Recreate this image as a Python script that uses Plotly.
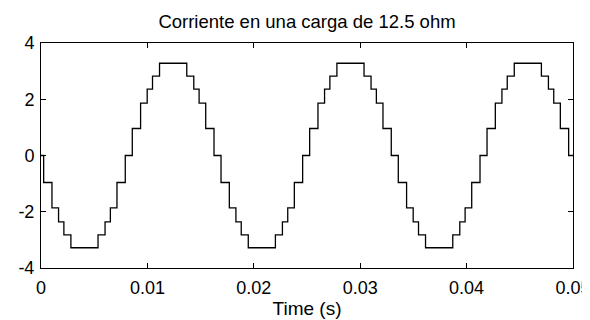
import plotly.graph_objects as go

# Step transition times (s) and the level reached at each time (A)
time_s = [
    0.0,
    0.00025, 0.00103, 0.00165, 0.00215, 0.00281,
    0.00536, 0.00602, 0.00652, 0.00714, 0.00792,
    0.00858, 0.00936, 0.00998, 0.01048, 0.01114,
    0.01370, 0.01436, 0.01486, 0.01548, 0.01626,
    0.01692, 0.01770, 0.01832, 0.01882, 0.01948,
    0.02203, 0.02269, 0.02319, 0.02381, 0.02459,
    0.02525, 0.02603, 0.02665, 0.02715, 0.02781,
    0.03036, 0.03102, 0.03152, 0.03214, 0.03292,
    0.03358, 0.03436, 0.03498, 0.03548, 0.03614,
    0.03870, 0.03936, 0.03986, 0.04048, 0.04126,
    0.04192, 0.04270, 0.04332, 0.04382, 0.04448,
    0.04703, 0.04769, 0.04819, 0.04881, 0.04959,
    0.05,
]

current_a = [
    0.0,
    -0.96, -1.86, -2.36, -2.82, -3.28,
    -2.82, -2.36, -1.86, -0.96, 0.0,
    0.96, 1.86, 2.36, 2.82, 3.28,
    2.82, 2.36, 1.86, 0.96, 0.0,
    -0.96, -1.86, -2.36, -2.82, -3.28,
    -2.82, -2.36, -1.86, -0.96, 0.0,
    0.96, 1.86, 2.36, 2.82, 3.28,
    2.82, 2.36, 1.86, 0.96, 0.0,
    -0.96, -1.86, -2.36, -2.82, -3.28,
    -2.82, -2.36, -1.86, -0.96, 0.0,
    0.96, 1.86, 2.36, 2.82, 3.28,
    2.82, 2.36, 1.86, 0.96, 0.0,
    0.0,
]

x_ticks = [0, 0.01, 0.02, 0.03, 0.04, 0.05]
x_tick_labels = ["0", "0.01", "0.02", "0.03", "0.04", "0.05"]
y_ticks = [-4, -2, 0, 2, 4]
y_tick_labels = ["-4", "-2", "0", "2", "4"]

title_text = "Corriente en una carga de 12.5 ohm"
x_title = "Time (s)"

FONT = "Liberation Sans, Arial, sans-serif"

fig = go.Figure()
fig.add_trace(go.Scatter(
    x=time_s, y=current_a, mode="lines",
    line=dict(color="black", width=1.3, shape="hv"),
    showlegend=False, hoverinfo="skip",
))

axis_common = dict(
    showline=True, linecolor="black", linewidth=1,
    mirror="ticks", ticks="inside", ticklen=5, tickcolor="black", tickwidth=1,
    showgrid=False, zeroline=False, automargin=False,
    tickfont=dict(family=FONT, size=18, color="black"),
)

fig.update_layout(
    width=590, height=320,
    margin=dict(l=33, r=25, t=35, b=60),
    paper_bgcolor="white", plot_bgcolor="white",
    title=dict(text=title_text, x=0.5, xanchor="center", y=0.959, yanchor="middle",
               xref="paper",
               font=dict(family=FONT, size=18.5, color="black")),
    xaxis=dict(range=[0, 0.05], tickvals=x_ticks, ticktext=x_tick_labels,
               ticklabelstandoff=3,
               title=dict(text=x_title, font=dict(family=FONT, size=19, color="black"), standoff=5),
               **axis_common),
    yaxis=dict(range=[-4, 4], tickvals=y_ticks, ticktext=y_tick_labels,
               ticklabelstandoff=2, **axis_common),
)

fig.write_html("out.html")
